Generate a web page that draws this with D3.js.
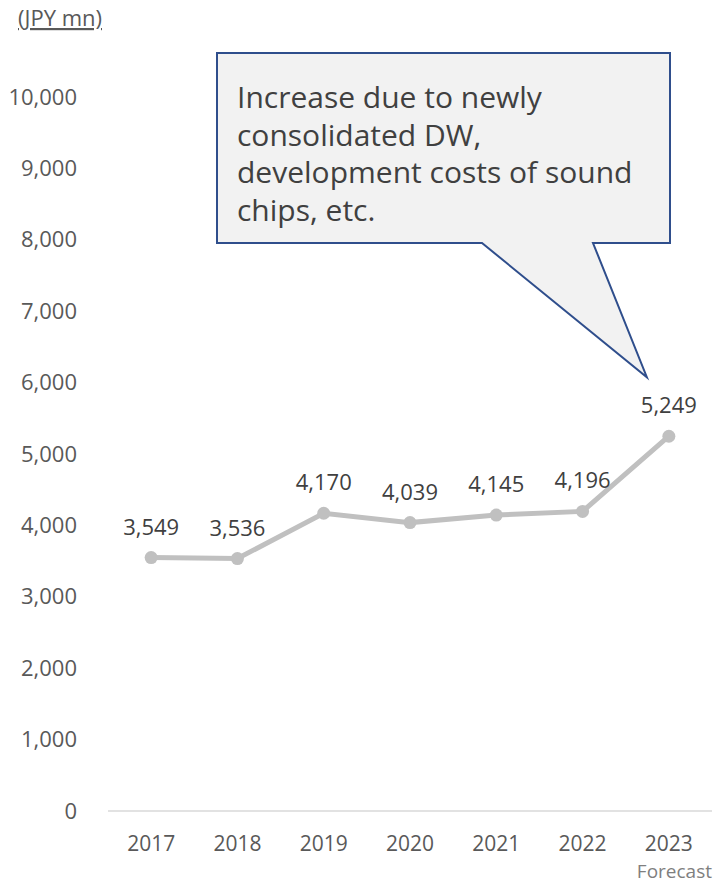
<!DOCTYPE html>
<head>
<meta charset="utf-8">
<style>
body { margin: 0; background: #fff; }
svg text { font-family: "Open Sans", "Noto Sans", sans-serif; fill: #595959; }
</style>
</head>
<body>
<svg width="718" height="885"></svg>
<script src="https://cdn.jsdelivr.net/npm/d3@7"></script>
<script>
var years = ["2017", "2018", "2019", "2020", "2021", "2022", "2023"]
var values = [3549, 3536, 4170, 4039, 4145, 4196, 5249]
var yTicks = [0, 1000, 2000, 3000, 4000, 5000, 6000, 7000, 8000, 9000, 10000]
var unitLabel = "(JPY mn)"
var noteLines = ["Increase due to newly", "consolidated DW,", "development costs of sound", "chips, etc."]

var svg = d3.select("svg")
var x = d3.scaleBand().domain(years).range([108, 712])
var y = d3.scaleLinear().domain([0, 10000]).range([811, 97])
var fmt = d3.format(",")
var ff = '"Open Sans", "Noto Sans", sans-serif'

// unit label
svg.append("text").attr("x", 18).attr("y", 26).attr("font-size", 22)
  .attr("text-decoration", "underline").text(unitLabel)

// y axis labels
var ya = svg.append("g").attr("transform", "translate(77,0)")
  .call(d3.axisLeft(y).tickValues(yTicks).tickFormat(fmt).tickSize(0).tickPadding(0))
ya.select(".domain").remove()
ya.selectAll("text").attr("font-size", 22).style("font-family", ff)

// baseline
svg.append("line").attr("x1", 108).attr("x2", 712)
  .attr("y1", y(0)).attr("y2", y(0)).attr("stroke", "#d9d9d9").attr("stroke-width", 1.5)

// x axis labels
var xa = svg.append("g").attr("transform", "translate(0," + (y(0) + 40) + ")")
  .call(d3.axisBottom(x).tickSize(0).tickPadding(0))
xa.select(".domain").remove()
xa.selectAll("text").attr("font-size", 21).attr("dy", 0).style("font-family", ff)

svg.append("text").attr("x", 712).attr("y", 878).attr("text-anchor", "end")
  .attr("font-size", 19).style("fill", "#7f7f7f").text("Forecast")

// line + markers
var cx = function(d, i) { return x(years[i]) + x.bandwidth() / 2 }
var line = d3.line().x(cx).y(function(d) { return y(d) })
svg.append("path").datum(values).attr("d", line)
  .attr("fill", "none").attr("stroke", "#c0c0c0").attr("stroke-width", 5)
svg.selectAll(".pt").data(values).enter().append("circle")
  .attr("cx", cx).attr("cy", function(d) { return y(d) }).attr("r", 6.5).attr("fill", "#c0c0c0")
svg.selectAll(".lbl").data(values).enter().append("text")
  .attr("x", cx).attr("y", function(d) { return y(d) - 23 })
  .attr("text-anchor", "middle").attr("font-size", 22).style("fill", "#404040").text(fmt)

// callout
var bx0 = 217, by0 = 53, bx1 = 670, by1 = 243
var tip = [x("2023") + x.bandwidth() / 2 - 22, y(values[6]) - 59]
var shape = [[bx0, by0], [bx1, by0], [bx1, by1], [593, by1], tip, [482, by1], [bx0, by1]]
svg.append("path").attr("d", "M" + shape.join("L") + "Z")
  .attr("fill", "#f2f2f2").attr("stroke", "#2f4e8c").attr("stroke-width", 2)
svg.append("g").selectAll("text").data(noteLines).enter().append("text")
  .attr("x", 237).attr("y", function(d, i) { return 108 + i * 37.5 })
  .attr("font-size", 30).style("fill", "#404040").text(function(d) { return d })
</script>
</body>
